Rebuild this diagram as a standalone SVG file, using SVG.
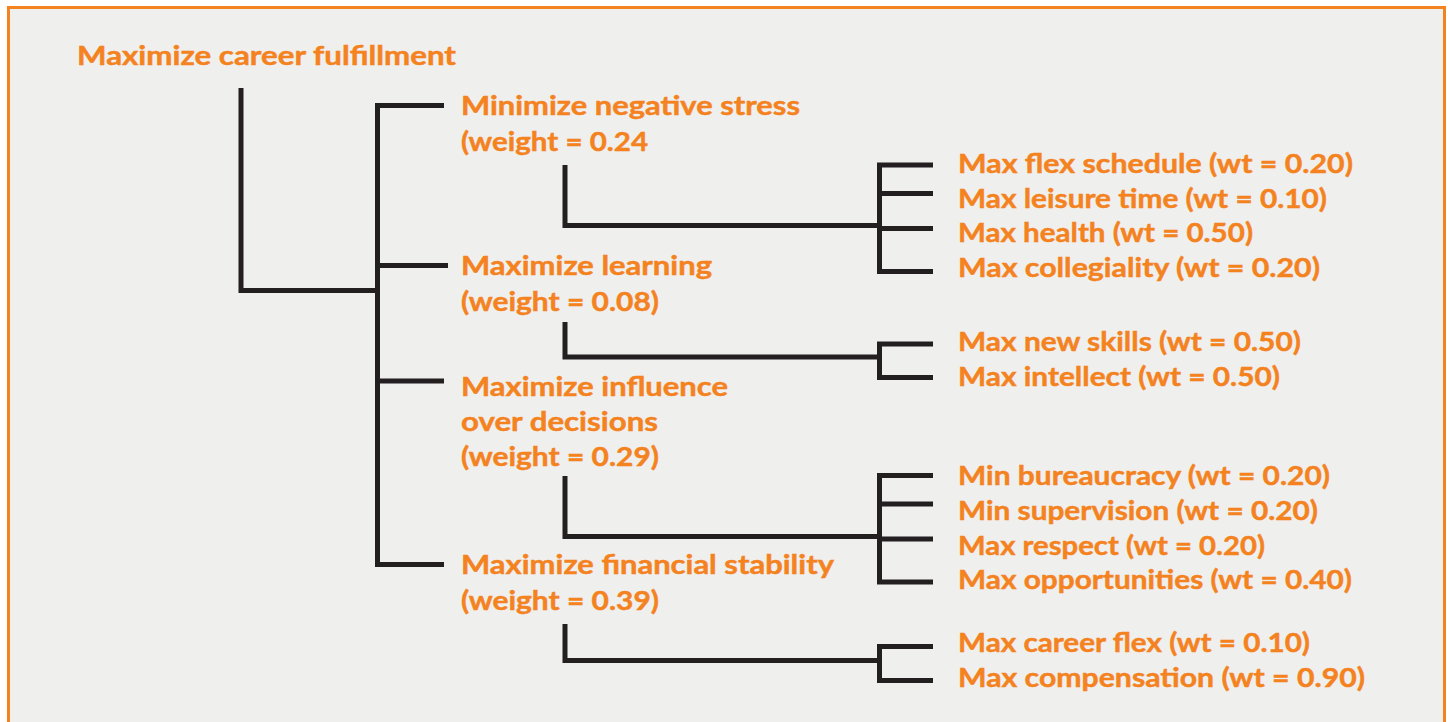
<svg xmlns="http://www.w3.org/2000/svg" width="1448" height="722" viewBox="0 0 1448 722">
  <style>
    .lbl { font-family: "Lato", "Open Sans", "Liberation Sans", sans-serif; font-weight: 700; font-size: 27px; fill: #f4821f; stroke: #f4821f; stroke-width: 0.45; }
    .wire { fill: none; stroke: #231f20; stroke-width: 5; stroke-linejoin: miter; stroke-linecap: butt; }
  </style>

  <!-- page background and frame -->
  <rect x="0" y="0" width="1448" height="722" fill="#ffffff"/>
  <rect x="8.5" y="7.5" width="1436" height="730" fill="#efefed" stroke="#f4821f" stroke-width="3"/>

  <!-- connectors -->
  <g id="connectors">
    <!-- root to spine -->
    <path class="wire" d="M241 88 V290.5 H377.5"/>
    <!-- spine and first-level branches -->
    <path class="wire" d="M444 105.5 H377.5 V564.5 H444"/>
    <path class="wire" d="M377.5 265.5 H448"/>
    <path class="wire" d="M377.5 381 H444"/>

    <!-- stress -> sub-objectives -->
    <path class="wire" d="M565 165 V225.5 H879.5"/>
    <path class="wire" d="M933 165 H879.5 V271.5 H933"/>
    <path class="wire" d="M879.5 193.5 H933"/>
    <path class="wire" d="M879.5 228.5 H933"/>

    <!-- learning -> sub-objectives -->
    <path class="wire" d="M565 322 V357 H879.5"/>
    <path class="wire" d="M933 344 H879.5 V377.5 H933"/>

    <!-- influence -> sub-objectives -->
    <path class="wire" d="M565 476 V536.5 H879.5"/>
    <path class="wire" d="M933 475.5 H879.5 V582 H933"/>
    <path class="wire" d="M879.5 504 H933"/>
    <path class="wire" d="M879.5 539 H933"/>

    <!-- financial -> sub-objectives -->
    <path class="wire" d="M565 624 V660.5 H879.5"/>
    <path class="wire" d="M933 646.5 H879.5 V680.5 H933"/>
  </g>

  <!-- root goal -->
  <g id="root">
    <text class="lbl" x="77" y="65" textLength="379" lengthAdjust="spacingAndGlyphs">Maximize career fulfillment</text>
  </g>

  <!-- first-level objectives -->
  <g id="stress">
    <text class="lbl" x="461" y="115" textLength="339" lengthAdjust="spacingAndGlyphs">Minimize negative stress</text>
    <text class="lbl" x="461" y="151" textLength="187" lengthAdjust="spacingAndGlyphs">(weight = 0.24</text>
  </g>
  <g id="learning">
    <text class="lbl" x="461" y="275" textLength="251" lengthAdjust="spacingAndGlyphs">Maximize learning</text>
    <text class="lbl" x="461" y="311" textLength="198" lengthAdjust="spacingAndGlyphs">(weight = 0.08)</text>
  </g>
  <g id="influence">
    <text class="lbl" x="461" y="396" textLength="267" lengthAdjust="spacingAndGlyphs">Maximize influence</text>
    <text class="lbl" x="461" y="431" textLength="197" lengthAdjust="spacingAndGlyphs">over decisions</text>
    <text class="lbl" x="461" y="466" textLength="198" lengthAdjust="spacingAndGlyphs">(weight = 0.29)</text>
  </g>
  <g id="financial">
    <text class="lbl" x="461" y="574" textLength="373" lengthAdjust="spacingAndGlyphs">Maximize financial stability</text>
    <text class="lbl" x="461" y="610" textLength="198" lengthAdjust="spacingAndGlyphs">(weight = 0.39)</text>
  </g>

  <!-- second-level objectives -->
  <g id="flex-schedule"><text class="lbl" x="958" y="173" textLength="395" lengthAdjust="spacingAndGlyphs">Max flex schedule (wt = 0.20)</text></g>
  <g id="leisure-time"><text class="lbl" x="958" y="208" textLength="369" lengthAdjust="spacingAndGlyphs">Max leisure time (wt = 0.10)</text></g>
  <g id="health"><text class="lbl" x="958" y="242" textLength="295" lengthAdjust="spacingAndGlyphs">Max health (wt = 0.50)</text></g>
  <g id="collegiality"><text class="lbl" x="958" y="277" textLength="362" lengthAdjust="spacingAndGlyphs">Max collegiality (wt = 0.20)</text></g>

  <g id="new-skills"><text class="lbl" x="958" y="351" textLength="343" lengthAdjust="spacingAndGlyphs">Max new skills (wt = 0.50)</text></g>
  <g id="intellect"><text class="lbl" x="958" y="386" textLength="322" lengthAdjust="spacingAndGlyphs">Max intellect (wt = 0.50)</text></g>

  <g id="bureaucracy"><text class="lbl" x="958" y="485" textLength="372" lengthAdjust="spacingAndGlyphs">Min bureaucracy (wt = 0.20)</text></g>
  <g id="supervision"><text class="lbl" x="958" y="520" textLength="360" lengthAdjust="spacingAndGlyphs">Min supervision (wt = 0.20)</text></g>
  <g id="respect"><text class="lbl" x="958" y="555" textLength="307" lengthAdjust="spacingAndGlyphs">Max respect (wt = 0.20)</text></g>
  <g id="opportunities"><text class="lbl" x="958" y="589" textLength="394" lengthAdjust="spacingAndGlyphs">Max opportunities (wt = 0.40)</text></g>

  <g id="career-flex"><text class="lbl" x="958" y="652" textLength="352" lengthAdjust="spacingAndGlyphs">Max career flex (wt = 0.10)</text></g>
  <g id="compensation"><text class="lbl" x="958" y="687" textLength="407" lengthAdjust="spacingAndGlyphs">Max compensation (wt = 0.90)</text></g>
</svg>
